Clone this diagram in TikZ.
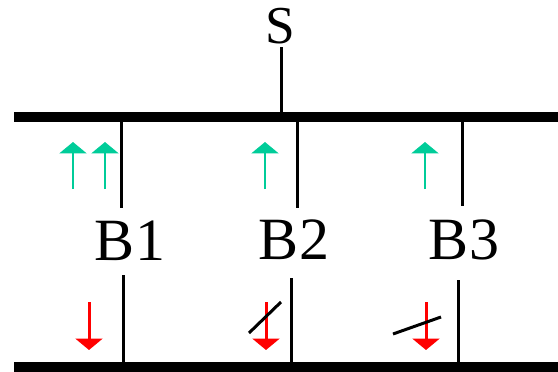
\documentclass[tikz,border=0pt]{standalone}
\usepackage{fontspec}
\setmainfont{Liberation Serif}
\usetikzlibrary{arrows.meta}
\definecolor{flowgreen}{RGB}{0,204,153}
\begin{document}
\begin{tikzpicture}[x=0.75pt,y=-0.75pt,
  bus/.style={line width=7.5pt},
  feeder/.style={line width=2.25pt},
  uparrow/.style={flowgreen,line width=2.1pt,-{Triangle[width=20pt,length=8.5pt]}},
  downarrow/.style={red,line width=2.25pt,-{Triangle[width=20pt,length=8.5pt]}},
  blocked/.style={line width=2.25pt},
  lbl/.style={font=\fontsize{45}{50}\selectfont, inner sep=0pt},
  slbl/.style={font=\fontsize{40}{44}\selectfont, inner sep=0pt}]
\useasboundingbox (0,0) rectangle (558,372);
% buses
\coordinate (tl) at (14,117);
\coordinate (tr) at (558,117);
\coordinate (bl) at (14,367);
\coordinate (br) at (558,367);
\draw[bus] (tl) -- (tr);
\draw[bus] (bl) -- (br);
% source
\node[slbl] (S) at (280,26) {S};
\coordinate (s1) at (281,47);
\coordinate (s2) at (281,113);
\draw[feeder] (s1) -- (s2);
% labels
\node[lbl] (B1) at (130,241) {B1};
\node[lbl] (B2) at (294,240) {B2};
\node[lbl] (B3) at (464,240) {B3};
% feeders
\coordinate (b1t) at (121,117); \coordinate (b1m) at (121,208);
\coordinate (b1n) at (123,275); \coordinate (b1b) at (123,367);
\coordinate (b2t) at (297,117); \coordinate (b2m) at (297,208);
\coordinate (b2n) at (291,278); \coordinate (b2b) at (291,367);
\coordinate (b3t) at (462,117); \coordinate (b3m) at (462,206);
\coordinate (b3n) at (458,280); \coordinate (b3b) at (458,367);
\draw[feeder] (b1t) -- (b1m);
\draw[feeder] (b1n) -- (b1b);
\draw[feeder] (b2t) -- (b2m);
\draw[feeder] (b2n) -- (b2b);
\draw[feeder] (b3t) -- (b3m);
\draw[feeder] (b3n) -- (b3b);
% green arrows
\coordinate (g1a) at (73,189); \coordinate (g1b) at (73,142);
\coordinate (g2a) at (105,189); \coordinate (g2b) at (105,142);
\coordinate (g3a) at (265,189); \coordinate (g3b) at (265,142);
\coordinate (g4a) at (425,189); \coordinate (g4b) at (425,142);
\draw[uparrow] (g1a) -- (g1b);
\draw[uparrow] (g2a) -- (g2b);
\draw[uparrow] (g3a) -- (g3b);
\draw[uparrow] (g4a) -- (g4b);
% red arrows
\coordinate (r1a) at (89,302); \coordinate (r1b) at (89,350);
\coordinate (r2a) at (266,302); \coordinate (r2b) at (266,350);
\coordinate (r3a) at (426,302); \coordinate (r3b) at (426,350);
\draw[downarrow] (r1a) -- (r1b);
\draw[downarrow] (r2a) -- (r2b);
\draw[downarrow] (r3a) -- (r3b);
% blocking slashes
\coordinate (x2a) at (249,333); \coordinate (x2b) at (281,302);
\coordinate (x3a) at (393,334); \coordinate (x3b) at (441,317);
\draw[blocked] (x2a) -- (x2b);
\draw[blocked] (x3a) -- (x3b);
\end{tikzpicture}
\end{document}
